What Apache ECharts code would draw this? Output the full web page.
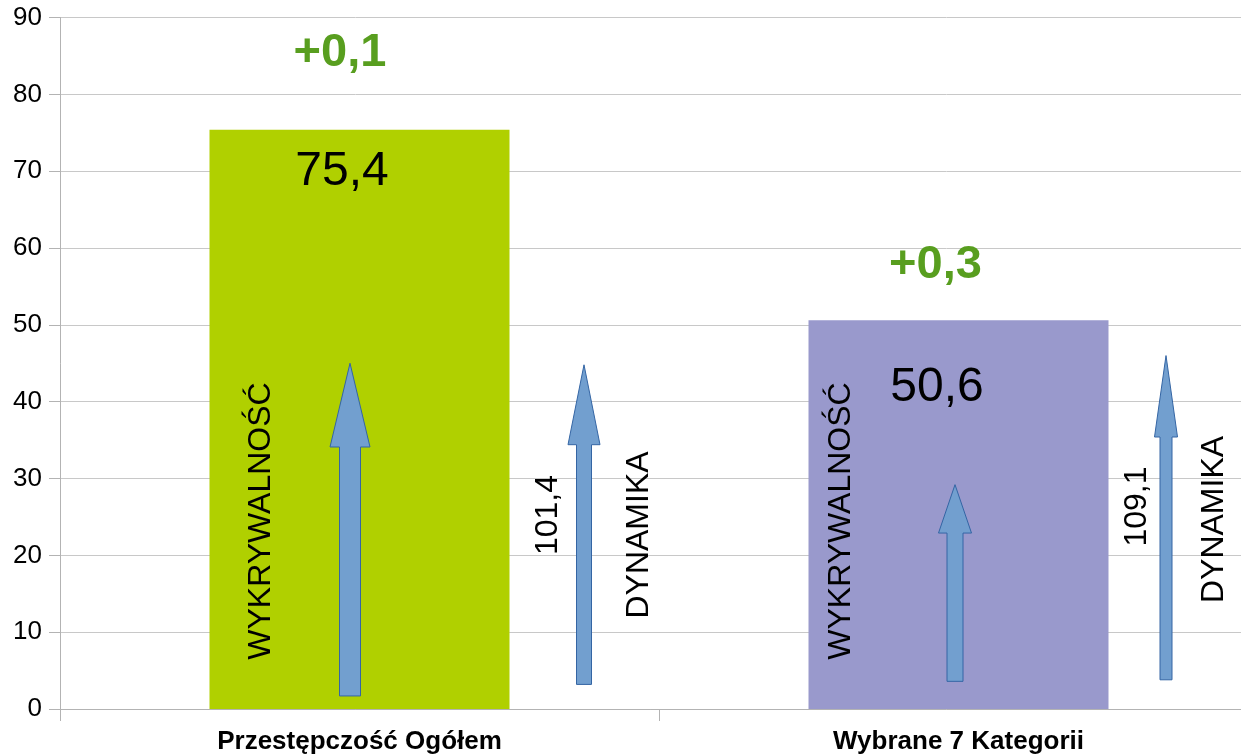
<!DOCTYPE html>
<html>
<head>
<meta charset="utf-8">
<title>Wykrywalność i dynamika</title>
<script src="https://cdn.jsdelivr.net/npm/echarts@6/dist/echarts.min.js"></script>
<style>
  html, body { margin: 0; padding: 0; background: #fff; }
  #chart { width: 1241px; height: 756px; }
</style>
</head>
<body>
<div id="chart"></div>
<script>
// dane
const categories = ['Przestępczość Ogółem', 'Wybrane 7 Kategorii']
const wykrywalnosc = [75.4, 50.6]
const zmiana = ['+0,1', '+0,3']
const dynamika = [101.4, 109.1]
const yTicks = [0, 90, 10] // min, max, krok

// strzałki w jednostkach osi: [podstawa, początek grotu, czubek]
const strzalkaWykr = [[1.7, 34.1, 45.0], [3.6, 22.9, 29.2]]
const strzalkaDyn = [[3.2, 34.4, 44.8], [3.8, 35.4, 46.0]]

// rozmieszczenie (piksele względem środka kategorii / linii zera)
// kolejność: wykr. kat.1, wykr. kat.2, dyn. kat.1, dyn. kat.2
const arrowLayout = [
  { dx: -9.5, shaft: 21, head: 40 },
  { dx: -3.5, shaft: 16, head: 33 },
  { dx: 224.5, shaft: 15, head: 32 },
  { dx: 207.5, shaft: 12, head: 23 }
]
const textLayout = [
  { valDx: -17.5, valDy: 42, chgDx: -19.5, chgDy: -77, wDx: -98.5, wDy: -188, nDx: 188.5, nDy: -194, dDx: 279.5, dDy: -174 },
  { valDx: -21.5, valDy: 67.5, chgDx: -23, chgDy: -55, wDx: -117.5, wDy: -188, nDx: 178.5, nDy: -202.5, dDx: 255.5, dDy: -189.5 }
]

const FONT = '"Liberation Sans", Arial, sans-serif'
const fmt = v => String(v).replace('.', ',')

const arrowData = []
strzalkaWykr.forEach((a, i) => arrowData.push([i, a[0], a[1], a[2]]))
strzalkaDyn.forEach((a, i) => arrowData.push([i, a[0], a[1], a[2]]))

function renderArrow(params, api) {
  const lay = arrowLayout[params.dataIndex]
  const cat = api.value(0)
  const pBase = api.coord([cat, api.value(1)])
  const pNeck = api.coord([cat, api.value(2)])
  const pTip = api.coord([cat, api.value(3)])
  const x = pBase[0] + lay.dx
  const s = lay.shaft / 2
  const h = lay.head / 2
  return {
    type: 'polygon',
    shape: {
      points: [
        [x - s, pBase[1]], [x - s, pNeck[1]], [x - h, pNeck[1]], [x, pTip[1]],
        [x + h, pNeck[1]], [x + s, pNeck[1]], [x + s, pBase[1]]
      ]
    },
    style: { fill: '#729fcf', stroke: '#3465a4', lineWidth: 1 }
  }
}

function txt(x, y, text, size, opts) {
  return {
    type: 'text',
    x: x,
    y: y,
    rotation: opts.rot ? Math.PI / 2 : 0,
    style: {
      text: text,
      fontSize: size,
      fontFamily: FONT,
      fontWeight: opts.bold ? 'bold' : 'normal',
      fill: opts.color || '#000',
      align: 'center',
      verticalAlign: 'middle'
    }
  }
}

function renderNotes(params, api) {
  const i = params.dataIndex
  const lay = textLayout[i]
  const top = api.coord([i, wykrywalnosc[i]])
  const zero = api.coord([i, 0])
  const cx = zero[0]
  return {
    type: 'group',
    children: [
      txt(cx + lay.valDx, top[1] + lay.valDy, fmt(wykrywalnosc[i]), 48, {}),
      txt(cx + lay.chgDx, top[1] + lay.chgDy, zmiana[i], 47, { bold: true, color: '#589e1f' }),
      txt(cx + lay.wDx, zero[1] + lay.wDy, 'WYKRYWALNOŚĆ', 32, { rot: true }),
      txt(cx + lay.nDx, zero[1] + lay.nDy, fmt(dynamika[i]), 32, { rot: true }),
      txt(cx + lay.dDx, zero[1] + lay.dDy, 'DYNAMIKA', 32, { rot: true })
    ]
  }
}

const chart = echarts.init(document.getElementById('chart'))
const option = {
  animation: false,
  grid: { left: 60, right: -17, top: 17.5, bottom: 47, containLabel: false, outerBoundsMode: 'none' },
  xAxis: {
    type: 'category',
    data: categories,
    axisLine: { lineStyle: { color: '#b3b3b3', width: 1 } },
    axisTick: { show: true, length: 12, lineStyle: { color: '#b3b3b3' } },
    axisLabel: { color: '#000', fontFamily: FONT, fontSize: 26, fontWeight: 'bold', margin: 20 },
    splitLine: { show: false }
  },
  yAxis: {
    type: 'value',
    min: yTicks[0],
    max: yTicks[1],
    interval: yTicks[2],
    axisLine: { show: true, lineStyle: { color: '#b3b3b3', width: 1 } },
    axisTick: { show: true, length: 11, lineStyle: { color: '#b3b3b3' } },
    axisLabel: { color: '#000', fontFamily: FONT, fontSize: 26, margin: 18 },
    splitLine: { lineStyle: { color: '#c8c8c8', width: 1 } }
  },
  series: [
    {
      type: 'bar',
      barWidth: 300,
      data: wykrywalnosc.map((v, i) => ({ value: v, itemStyle: { color: ['#b0d000', '#9999cc'][i] } }))
    },
    {
      type: 'custom',
      z: 3,
      renderItem: renderArrow,
      data: arrowData,
      encode: { x: 0, y: [1, 2, 3] }
    },
    {
      type: 'custom',
      z: 4,
      renderItem: renderNotes,
      data: categories.map((c, i) => [i, wykrywalnosc[i]]),
      encode: { x: 0, y: 1 }
    }
  ]
}
chart.setOption(option)
</script>
</body>
</html>
